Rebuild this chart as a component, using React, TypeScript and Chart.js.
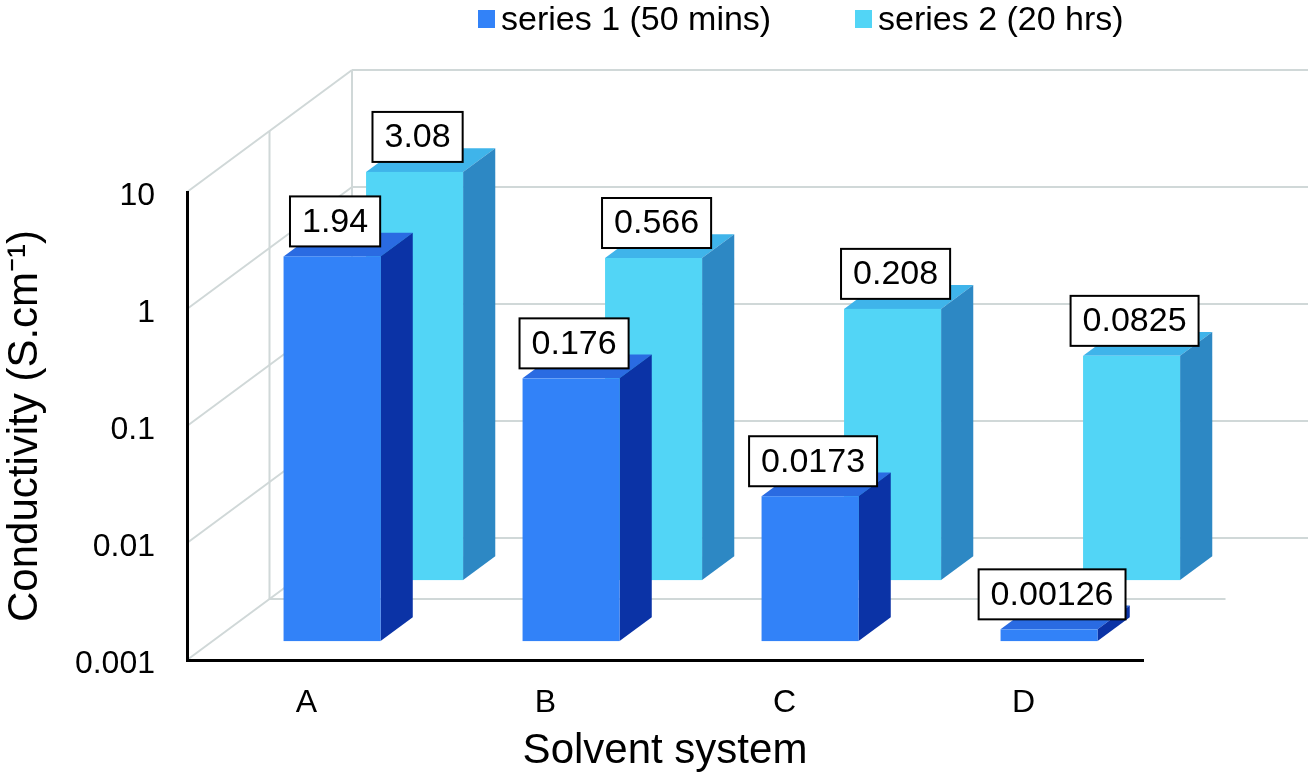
import React, { useEffect, useRef } from 'react';
import { Chart, registerables } from 'chart.js';

Chart.register(...registerables);

// ---- data ----
const CATEGORIES = ['A', 'B', 'C', 'D'];
const SERIES1_VALUES = [1.94, 0.176, 0.0173, 0.00126];
const SERIES2_VALUES = [3.08, 0.566, 0.208, 0.0825];
const SERIES_NAMES = ['series 1 (50 mins)', 'series 2 (20 hrs)'];
const Y_TICKS = [0.001, 0.01, 0.1, 1, 10];
const Y_MIN = 0.001;
const Y_MAX = 10;
const X_TITLE = 'Solvent system';
const Y_TITLE = 'Conductivity (S.cm\u207B\u00B9)';

// ---- style ----
const FONT = '"Liberation Sans", Arial, Helvetica, sans-serif';
const DX = 82.5;
const DY = -61;
const BAR_D0 = 0.31;
const BAR_DLEN = 0.39;
const GRID = '#d0d8d8';
const STYLES = [
  { front: '#3282f8', side: '#0b33a6', top: '#2a6be2' },
  { front: '#52d5f6', side: '#2d88c4', top: '#3fb4ea' },
];

const threeD = {
  id: 'threeD',
  beforeDraw(chart: any) {
    const { ctx, chartArea: ca, scales } = chart;
    const y = scales.y;
    ctx.save();
    ctx.strokeStyle = GRID;
    ctx.lineWidth = 2;
    const line = (x1: number, y1: number, x2: number, y2: number) => {
      ctx.beginPath();
      ctx.moveTo(x1, y1);
      ctx.lineTo(x2, y2);
      ctx.stroke();
    };
    const yTop = y.getPixelForValue(Y_MAX);
    const yBot = y.getPixelForValue(Y_MIN);
    Y_TICKS.forEach((t) => {
      const py = y.getPixelForValue(t);
      line(ca.left, py, ca.left + 2 * DX, py + 2 * DY);
      line(ca.left + 2 * DX, py + 2 * DY, ca.right + 2 * DX, py + 2 * DY);
    });
    line(ca.left + DX, yTop + DY, ca.left + DX, yBot + DY);
    line(ca.left + 2 * DX, yTop + 2 * DY, ca.left + 2 * DX, yBot + 2 * DY);
    line(ca.left + DX, yBot + DY, ca.right + DX, yBot + DY);
    ctx.restore();
  },
  afterDatasetsDraw(chart: any) {
    const { ctx, scales } = chart;
    const y = scales.y;
    const base = y.getPixelForValue(Y_MIN);
    const ox = BAR_DLEN * DX;
    const oy = BAR_DLEN * DY;
    const poly = (pts: number[][], color: string) => {
      ctx.beginPath();
      ctx.moveTo(pts[0][0], pts[0][1]);
      for (let k = 1; k < pts.length; k++) ctx.lineTo(pts[k][0], pts[k][1]);
      ctx.closePath();
      ctx.fillStyle = color;
      ctx.fill();
    };
    const labels: any[] = [];
    ctx.save();
    for (const di of [1, 0]) {
      const meta = chart.getDatasetMeta(di);
      const st = STYLES[di];
      const d0 = di + BAR_D0;
      const values = chart.data.datasets[di].data;
      meta.data.forEach((el: any, i: number) => {
        const p = el.getProps(['x', 'y', 'width'], true);
        const x0 = p.x - p.width / 2 + d0 * DX;
        const x1 = p.x + p.width / 2 + d0 * DX;
        const y0 = p.y + d0 * DY;
        const y1 = base + d0 * DY;
        poly([[x0, y0], [x1, y0], [x1 + ox, y0 + oy], [x0 + ox, y0 + oy]], st.top);
        poly([[x1, y0], [x1 + ox, y0 + oy], [x1 + ox, y1 + oy], [x1, y1]], st.side);
        ctx.fillStyle = st.front;
        ctx.fillRect(x0, y0, x1 - x0, y1 - y0);
        labels.push({ text: String(values[i]), cx: (x0 + x1) / 2 + 3, bottom: y0 - 10 });
      });
    }
    ctx.font = `34px ${FONT}`;
    ctx.textAlign = 'center';
    ctx.textBaseline = 'middle';
    labels.forEach((l) => {
      const w = ctx.measureText(l.text).width + 24;
      const h = 50;
      ctx.fillStyle = '#ffffff';
      ctx.fillRect(l.cx - w / 2, l.bottom - h, w, h);
      ctx.strokeStyle = '#000000';
      ctx.lineWidth = 2;
      ctx.strokeRect(l.cx - w / 2, l.bottom - h, w, h);
      ctx.fillStyle = '#000000';
      ctx.fillText(l.text, l.cx, l.bottom - h / 2 + 1);
    });
    ctx.restore();
  },
  afterDraw(chart: any) {
    const { ctx } = chart;
    const items = [
      { x: 478, color: STYLES[0].front, text: SERIES_NAMES[0] },
      { x: 855, color: STYLES[1].front, text: SERIES_NAMES[1] },
    ];
    ctx.save();
    ctx.font = `34px ${FONT}`;
    ctx.textAlign = 'left';
    ctx.textBaseline = 'middle';
    items.forEach((it) => {
      ctx.fillStyle = it.color;
      ctx.fillRect(it.x, 10, 17, 18);
      ctx.fillStyle = '#000000';
      ctx.fillText(it.text, it.x + 23, 21);
    });
    ctx.restore();
  },
};

export default function App() {
  const canvasRef = useRef<HTMLCanvasElement | null>(null);
  useEffect(() => {
    document.body.style.margin = '0';
    const canvas = canvasRef.current;
    if (!canvas) return;
    const chart = new Chart(canvas, {
      type: 'bar',
      data: {
        labels: CATEGORIES,
        datasets: [
          {
            label: SERIES_NAMES[0],
            data: SERIES1_VALUES,
            backgroundColor: 'rgba(0,0,0,0)',
            borderWidth: 0,
            grouped: false,
            categoryPercentage: 1,
            barPercentage: 0.406,
          } as any,
          {
            label: SERIES_NAMES[1],
            data: SERIES2_VALUES,
            backgroundColor: 'rgba(0,0,0,0)',
            borderWidth: 0,
            grouped: false,
            categoryPercentage: 1,
            barPercentage: 0.406,
          } as any,
        ],
      },
      options: {
        responsive: false,
        animation: false,
        devicePixelRatio: 1,
        layout: { padding: { top: 192, right: 168, left: 0, bottom: 0 } },
        plugins: {
          legend: { display: false },
          tooltip: { enabled: false },
        },
        scales: {
          x: {
            type: 'category',
            grid: { display: false, drawTicks: false },
            border: { display: true, color: '#000000', width: 3 },
            ticks: { font: { family: FONT, size: 32 }, color: '#000000', padding: 24 },
            title: {
              display: true,
              text: X_TITLE,
              color: '#000000',
              font: { family: FONT, size: 42 },
              padding: { top: 0, bottom: 6 },
            },
            afterFit: (s: any) => {
              s.height = 123;
            },
          },
          y: {
            type: 'logarithmic',
            min: Y_MIN,
            max: Y_MAX,
            grid: { display: false, drawTicks: false },
            border: { display: true, color: '#000000', width: 3 },
            afterBuildTicks: (s: any) => {
              s.ticks = Y_TICKS.map((v) => ({ value: v }));
            },
            ticks: {
              font: { family: FONT, size: 32 },
              color: '#000000',
              padding: 32,
              labelOffset: 4,
              callback: (v: any) => String(v),
            },
            title: {
              display: true,
              text: Y_TITLE,
              color: '#000000',
              font: { family: FONT, size: 42 },
              padding: { top: 0, bottom: 0 },
            },
            afterFit: (s: any) => {
              s.width = 187;
            },
          },
        },
      } as any,
      plugins: [threeD],
    });
    return () => chart.destroy();
  }, []);
  return (
    <div style={{ position: 'absolute', left: 0, top: 0, width: 1311, height: 783, background: '#ffffff' }}>
      <canvas ref={canvasRef} width={1311} height={783} />
    </div>
  );
}
